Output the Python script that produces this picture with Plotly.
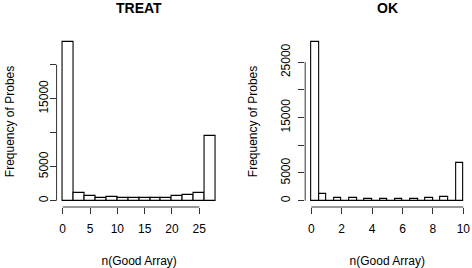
import plotly.graph_objects as go

# TREAT histogram: bin edges and counts
treat_edges = [0, 2, 4, 6, 8, 10, 12, 14, 16, 18, 20, 22, 24, 26, 28]
treat_counts = [23300, 1100, 700, 450, 550, 350, 350, 400, 450, 450, 650, 880, 1130, 9500]
treat_xticks = [0, 5, 10, 15, 20, 25]
treat_yticks = [0, 5000, 10000, 15000, 20000]
treat_ylabels = ["0", "5000", "", "15000", ""]

# OK histogram: bin edges and counts (bin width 0.5)
ok_edges = [i * 0.5 for i in range(21)]
ok_counts = [28600, 1150, 0, 540, 0, 450, 0, 380, 0, 380, 0, 380, 0, 380, 0, 430, 0, 670, 0, 6900]
ok_xticks = [0, 2, 4, 6, 8, 10]
ok_yticks = [0, 5000, 10000, 15000, 20000, 25000]
ok_ylabels = ["0", "5000", "", "15000", "", "25000"]

titles = ["TREAT", "OK"]
xlab = "n(Good Array)"
ylab = "Frequency of Probes"

FONT = "Liberation Sans, Arial, sans-serif"
AX = "#333333"

fig = go.Figure()

def add_hist(edges, counts, xa, ya):
    centers = [(edges[i] + edges[i + 1]) / 2 for i in range(len(counts))]
    widths = [edges[i + 1] - edges[i] for i in range(len(counts))]
    fig.add_trace(go.Bar(x=centers, y=counts, width=widths, xaxis=xa, yaxis=ya,
                         marker=dict(color="white", line=dict(color="black", width=1.1)),
                         showlegend=False, hoverinfo="x+y"))

add_hist(treat_edges, treat_counts, "x", "y")
add_hist(ok_edges, ok_counts, "x2", "y2")

def pad(lo, hi):
    d = (hi - lo) * 0.04
    return [lo - d, hi + d]

def xaxis_style():
    return dict(showgrid=False, zeroline=False, showline=False, ticks="outside", ticklen=6,
                tickcolor=AX, tickwidth=1, tickfont=dict(size=12, color="black", family=FONT),
                ticklabelstandoff=5, automargin=False,
                title=dict(text=xlab, font=dict(size=12, color="black", family=FONT), standoff=21))

def yaxis_style(lab_off, title_off):
    return dict(showgrid=False, zeroline=False, showline=False, ticks="outside", ticklen=6,
                tickcolor=AX, tickwidth=1, tickfont=dict(size=12, color="black", family=FONT),
                tickangle=-90, automargin=False, ticklabelstandoff=lab_off,
                title=dict(text=ylab, font=dict(size=12, color="black", family=FONT), standoff=title_off))

ydom = [0.2276, 0.866]
fig.update_layout(
    width=472, height=268, margin=dict(l=0, r=0, t=0, b=0, autoexpand=False),
    paper_bgcolor="white", plot_bgcolor="white", bargap=0,
    font=dict(family=FONT, color="black"),
    xaxis=dict(domain=[0.1199, 0.4699], range=pad(treat_edges[0], treat_edges[-1]), anchor="y",
               tickvals=treat_xticks, **xaxis_style()),
    yaxis=dict(domain=ydom, range=pad(0, max(treat_counts)), anchor="x",
               tickvals=treat_yticks, ticktext=treat_ylabels, **yaxis_style(-3, 19)),
    xaxis2=dict(domain=[0.6466, 0.9945], range=pad(ok_edges[0], ok_edges[-1]), anchor="y2",
                tickvals=ok_xticks, **xaxis_style()),
    yaxis2=dict(domain=ydom, range=pad(0, max(ok_counts)), anchor="x2",
                tickvals=ok_yticks, ticktext=ok_ylabels, **yaxis_style(3, 19)),
)

# axis lines spanning first to last tick (R style)
for xa, ya, xt, yt in [("x", "y", treat_xticks, treat_yticks), ("x2", "y2", ok_xticks, ok_yticks)]:
    fig.add_shape(type="line", xref=xa, yref=ya + " domain", x0=xt[0], x1=xt[-1], y0=0, y1=0,
                  line=dict(color=AX, width=1))
    fig.add_shape(type="line", xref=xa + " domain", yref=ya, x0=0, x1=0, y0=yt[0], y1=yt[-1],
                  line=dict(color=AX, width=1))

# panel titles
for xa, t in [("x", titles[0]), ("x2", titles[1])]:
    fig.add_annotation(text="<b>" + t + "</b>", xref=xa + " domain", yref="paper", x=0.5, y=1 - 8 / 268,
                       showarrow=False, font=dict(size=14, color="black", family=FONT),
                       xanchor="center", yanchor="middle")

fig.write_html("out.html", config={"displayModeBar": False},
               post_script="document.body.style.margin='0';document.body.style.overflow='hidden';")
